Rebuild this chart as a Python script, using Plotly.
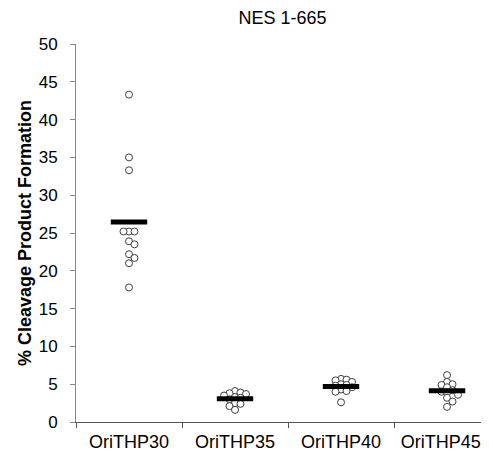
import plotly.graph_objects as go

categories = ["OriTHP30", "OriTHP35", "OriTHP40", "OriTHP45"]
values_30 = [43.3, 35.0, 33.3, 25.2, 25.2, 25.2, 23.9, 23.5, 22.2, 21.7, 21.0, 17.8]
values_35 = [4.1, 3.9, 3.8, 3.7, 3.5, 3.3, 3.2, 3.0, 2.5, 2.4, 2.1, 1.6]
values_40 = [5.7, 5.6, 5.5, 5.3, 5.0, 4.9, 4.8, 4.6, 4.3, 4.1, 4.0, 2.6]
values_45 = [6.2, 5.3, 5.0, 4.9, 4.6, 4.2, 4.0, 3.9, 3.6, 3.2, 2.7, 2.0]
groups = [values_30, values_35, values_40, values_45]
y_ticks = list(range(0, 51, 5))

# page body has an 8px margin, so the figure is 8px smaller than the window
W, H = 481, 443
ML, MR, MT, MB = 68, 0, 36, 29
x_range = [-0.5, 3.396]
y_range = [0, 50]
px_x = (W - ML - MR) / (x_range[1] - x_range[0])
px_y = (H - MT - MB) / (y_range[1] - y_range[0])


def swarm(vals, step=5.5, min_d=5.0):
    placed = []
    offs = [0.0] * len(vals)
    order = sorted(range(len(vals)), key=lambda i: -vals[i])
    for i in order:
        yp = vals[i] * px_y
        k = 0
        while True:
            cands = [0.0] if k == 0 else [k * step, -k * step]
            ok = None
            for c in cands:
                if all(((c - px) ** 2 + (yp - py) ** 2) ** 0.5 >= min_d for px, py in placed):
                    ok = c
                    break
            if ok is not None:
                placed.append((ok, yp))
                offs[i] = ok / px_x
                break
            k += 1
    return offs


fig = go.Figure()
for gi, vals in enumerate(groups):
    offs = swarm(vals)
    fig.add_trace(go.Scatter(
        x=[gi + o for o in offs], y=vals, mode="markers",
        marker=dict(symbol="circle", size=7, color="white",
                    line=dict(color="#404040", width=1)),
        showlegend=False, hoverinfo="y"))
means = [sum(v) / len(v) for v in groups]
fig.add_trace(go.Scatter(
    x=list(range(len(categories))), y=means, mode="markers",
    marker=dict(symbol="line-ew", size=26, color="black",
                line=dict(color="black", width=5)),
    showlegend=False, hoverinfo="y"))

# the last label is nudged left so it stays inside the picture, as in the reference
label_pos = [i - (0.06 if i == len(categories) - 1 else 0) for i in range(len(categories))]

fig.update_layout(
    width=W, height=H,
    margin=dict(l=ML, r=MR, t=MT, b=MB, autoexpand=False),
    plot_bgcolor="white", paper_bgcolor="white",
    font=dict(family="Liberation Sans, Arial, sans-serif", size=17, color="black"),
    title=dict(text="NES 1-665", x=(ML + (W - ML - MR) / 2) / W, xanchor="center",
               y=1 - 10 / H, yanchor="middle", font=dict(size=18)),
    xaxis=dict(range=x_range, tickmode="array", tickvals=label_pos,
               ticktext=categories, ticks="", showgrid=False, zeroline=False,
               showline=True, linecolor="#555555", linewidth=1,
               ticklabelstandoff=3, automargin=False, tickfont=dict(size=18),
               ticklabeloverflow="allow",
               minor=dict(tickmode="array", tickvals=[-0.5, 0.5, 1.5, 2.5],
                          ticks="outside", ticklen=5, tickcolor="#555555", showgrid=False)),
    yaxis=dict(range=y_range, tickmode="array", tickvals=y_ticks, ticks="outside",
               ticklen=5, tickcolor="#888888", showgrid=False, zeroline=False,
               showline=True, linecolor="#888888", linewidth=1,
               ticklabelstandoff=9, automargin=False,
               title=dict(text="<b>% Cleavage Product Formation</b>",
                          font=dict(size=18), standoff=2)),
)
fig.write_html("out.html")
